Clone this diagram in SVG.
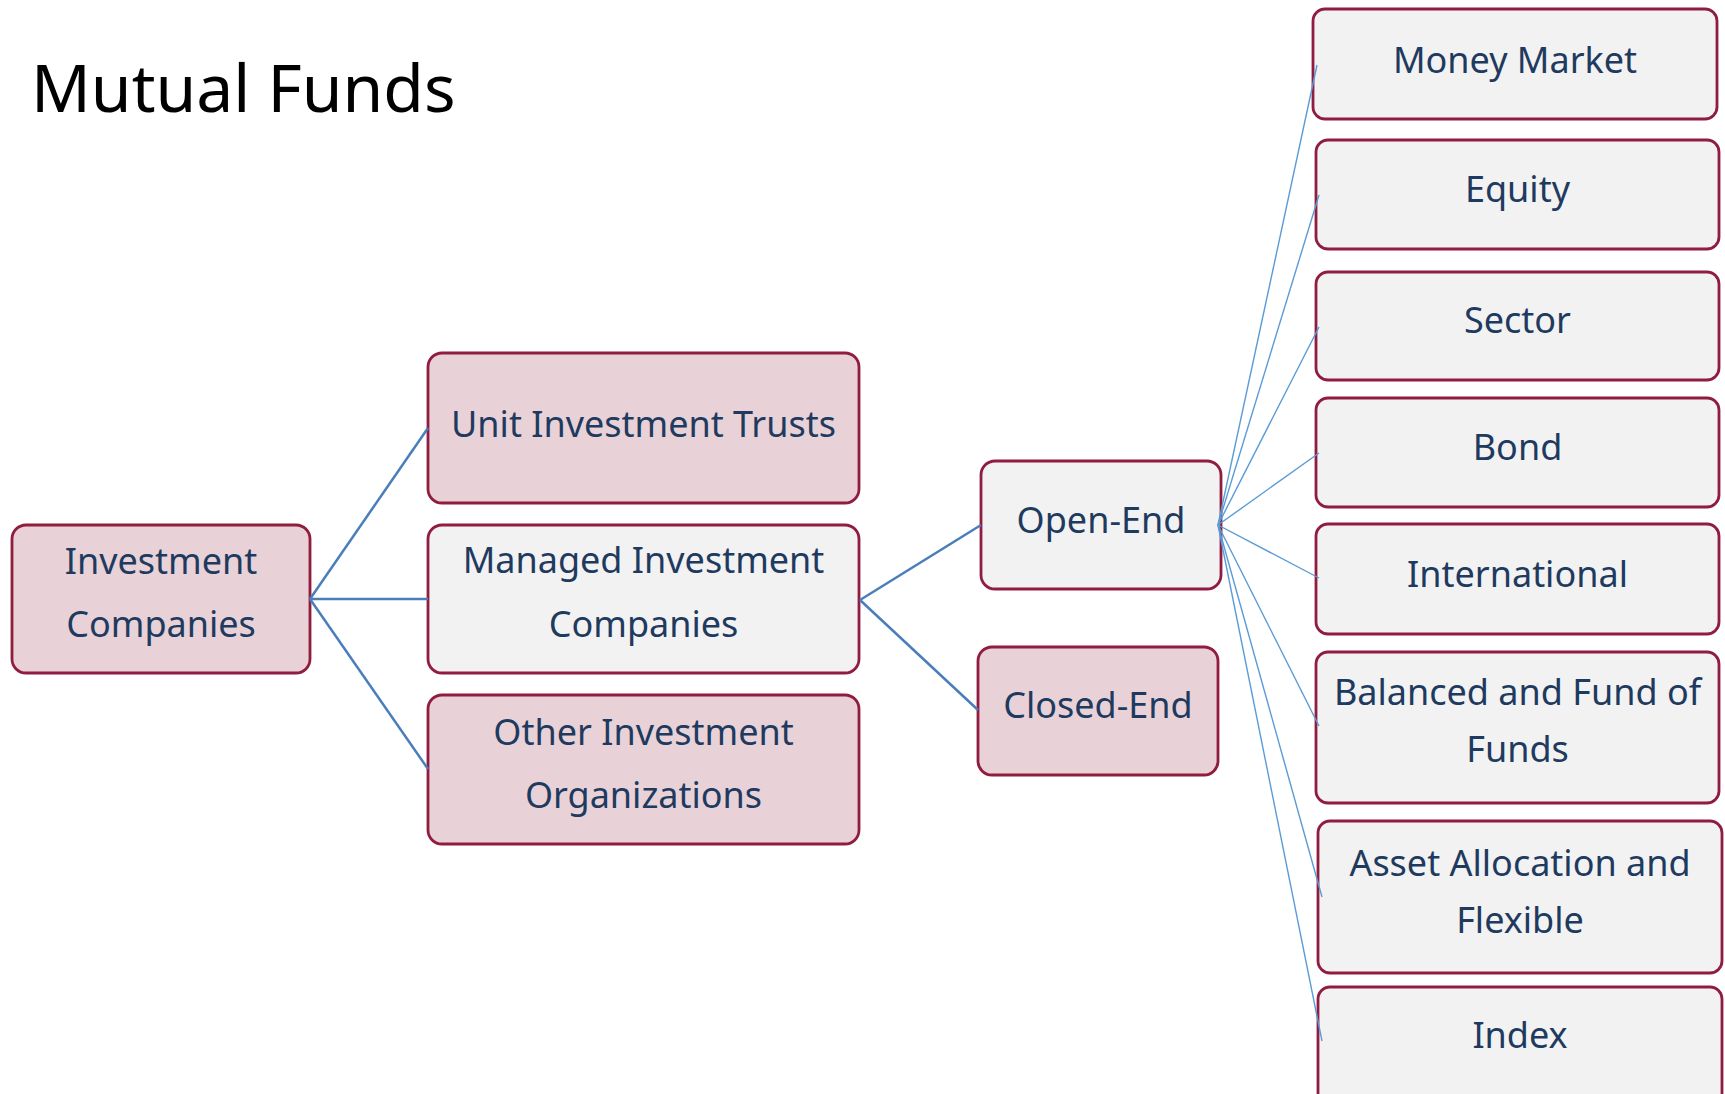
<svg xmlns="http://www.w3.org/2000/svg" width="1725" height="1094" viewBox="0 0 1725 1094">
<style>
.box{stroke:#901C40;stroke-width:2.8}
.pink{fill:#E8D2D7}
.grey{fill:#F2F2F2}
.lbl{font-family:"Noto Sans","Open Sans",sans-serif;font-size:36px;fill:#1F3A5F;text-anchor:middle}
.main{stroke:#4A7EBB;stroke-width:2.5;fill:none}
.fan{stroke:#5B9BD5;stroke-width:1.4;fill:none}
</style>
<rect width="1725" height="1094" fill="#FFFFFF"/>
<text x="31" y="112" font-family="'Noto Sans','Open Sans',sans-serif" font-size="66" fill="#000000">Mutual Funds</text>
<g id="investment-companies">
<rect class="box pink" x="12" y="525" width="298" height="148" rx="14"/>
<text class="lbl" x="161" y="574">Investment</text>
<text class="lbl" x="161" y="637">Companies</text>
</g>
<g id="unit-investment-trusts">
<rect class="box pink" x="428" y="353" width="431" height="150" rx="14"/>
<text class="lbl" x="643.5" y="437">Unit Investment Trusts</text>
</g>
<g id="managed-investment-companies">
<rect class="box grey" x="428" y="525" width="431" height="148" rx="14"/>
<text class="lbl" x="643.5" y="573">Managed Investment</text>
<text class="lbl" x="643.5" y="637">Companies</text>
</g>
<g id="other-investment-organizations">
<rect class="box pink" x="428" y="695" width="431" height="149" rx="14"/>
<text class="lbl" x="643.5" y="745">Other Investment</text>
<text class="lbl" x="643.5" y="808">Organizations</text>
</g>
<g id="open-end">
<rect class="box grey" x="981" y="461" width="240" height="128" rx="14"/>
<text class="lbl" x="1101" y="533">Open-End</text>
</g>
<g id="closed-end">
<rect class="box pink" x="978" y="647" width="240" height="128" rx="14"/>
<text class="lbl" x="1098" y="718">Closed-End</text>
</g>
<g id="money-market">
<rect class="box grey" x="1313" y="9" width="404" height="110" rx="12"/>
<text class="lbl" x="1515" y="73">Money Market</text>
</g>
<g id="equity">
<rect class="box grey" x="1316" y="140" width="403" height="109" rx="12"/>
<text class="lbl" x="1517.5" y="202">Equity</text>
</g>
<g id="sector">
<rect class="box grey" x="1316" y="272" width="403" height="108" rx="12"/>
<text class="lbl" x="1517.5" y="333">Sector</text>
</g>
<g id="bond">
<rect class="box grey" x="1316" y="398" width="403" height="109" rx="12"/>
<text class="lbl" x="1517.5" y="460">Bond</text>
</g>
<g id="international">
<rect class="box grey" x="1316" y="524" width="403" height="110" rx="12"/>
<text class="lbl" x="1517.5" y="587">International</text>
</g>
<g id="balanced">
<rect class="box grey" x="1316" y="652" width="403" height="151" rx="12"/>
<text class="lbl" x="1517.5" y="705">Balanced and Fund of</text>
<text class="lbl" x="1517.5" y="762">Funds</text>
</g>
<g id="asset-allocation">
<rect class="box grey" x="1318" y="821" width="404" height="152" rx="12"/>
<text class="lbl" x="1520" y="876">Asset Allocation and</text>
<text class="lbl" x="1520" y="933">Flexible</text>
</g>
<g id="index">
<rect class="box grey" x="1318" y="987" width="404" height="125" rx="12"/>
<text class="lbl" x="1520" y="1048">Index</text>
</g>
<g id="connectors">
<line class="main" x1="310" y1="599" x2="428" y2="428"/>
<line class="main" x1="310" y1="599" x2="428" y2="599"/>
<line class="main" x1="310" y1="599" x2="428" y2="769"/>
<line class="main" x1="860" y1="600" x2="981" y2="525"/>
<line class="main" x1="860" y1="600" x2="978" y2="710"/>
<line class="fan" x1="1218" y1="525" x2="1317" y2="65"/>
<line class="fan" x1="1218" y1="525" x2="1319" y2="195"/>
<line class="fan" x1="1218" y1="525" x2="1319" y2="327"/>
<line class="fan" x1="1218" y1="525" x2="1319" y2="453"/>
<line class="fan" x1="1218" y1="525" x2="1319" y2="578"/>
<line class="fan" x1="1218" y1="525" x2="1319" y2="726"/>
<line class="fan" x1="1218" y1="525" x2="1322" y2="897"/>
<line class="fan" x1="1218" y1="525" x2="1322" y2="1041"/>
</g>
</svg>
